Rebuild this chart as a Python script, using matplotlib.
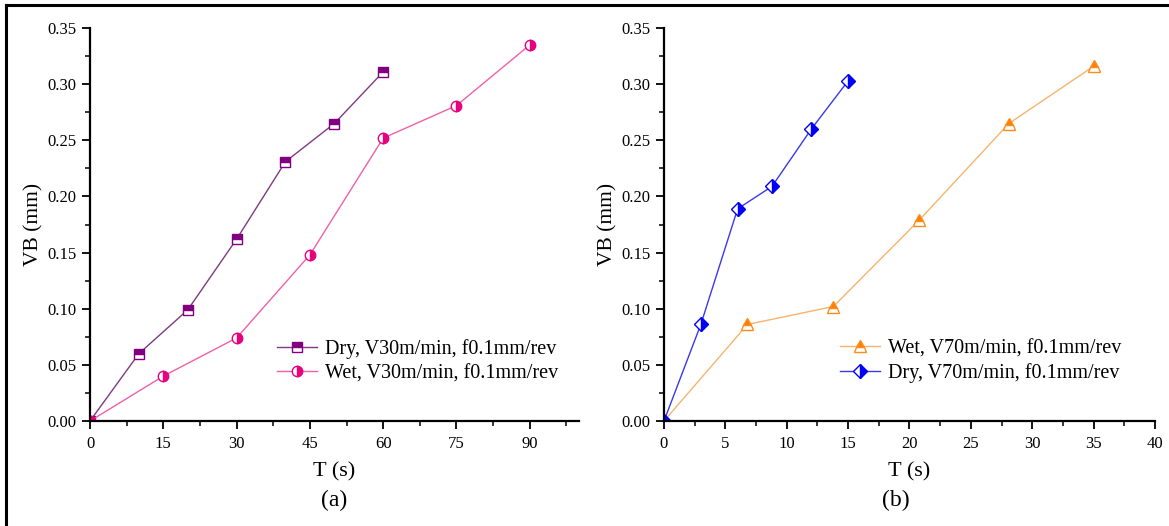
import matplotlib
matplotlib.use("Agg")
import matplotlib.pyplot as plt
from matplotlib.lines import Line2D
from matplotlib.ticker import MultipleLocator, FormatStrFormatter

plt.rcParams["font.family"] = ["Liberation Serif", "DejaVu Serif"]

# (a) V = 30 m/min
t_dry_a = [0, 10, 20, 30, 40, 50, 60]
vb_dry_a = [0.0, 0.060, 0.099, 0.162, 0.231, 0.265, 0.311]
t_wet_a = [0, 15, 30, 45, 60, 75, 90]
vb_wet_a = [0.0, 0.040, 0.074, 0.148, 0.252, 0.281, 0.335]

# (b) V = 70 m/min
t_wet_b = [0, 6.8, 13.8, 20.8, 28.1, 35.0]
vb_wet_b = [0.0, 0.086, 0.102, 0.179, 0.265, 0.316]
t_dry_b = [0, 3.0, 6.0, 8.8, 12.0, 15.0]
vb_dry_b = [0.0, 0.086, 0.189, 0.209, 0.260, 0.303]

fig = plt.figure(figsize=(11.69, 5.26), dpi=100)

# open frame along the top and left edges
fig.add_artist(Line2D([0.005, 1.0], [0.990, 0.990], color="black", lw=2.2,
                      transform=fig.transFigure))
fig.add_artist(Line2D([0.0055, 0.0055], [0.0, 0.990], color="black", lw=2.2,
                      transform=fig.transFigure))

ax_a = fig.add_axes([0.077, 0.1996, 0.418, 0.747])
ax_b = fig.add_axes([0.568, 0.1996, 0.420, 0.747])


def style_axes(ax, xmax, xmajor):
    ax.set_xlim(0, xmax)
    ax.set_ylim(0, 0.35)
    for side in ("top", "right"):
        ax.spines[side].set_visible(False)
    for side in ("left", "bottom"):
        ax.spines[side].set_linewidth(1.6)
    ax.xaxis.set_major_locator(MultipleLocator(xmajor))
    ax.xaxis.set_minor_locator(MultipleLocator(xmajor / 2))
    ax.yaxis.set_major_locator(MultipleLocator(0.05))
    ax.yaxis.set_minor_locator(MultipleLocator(0.025))
    ax.yaxis.set_major_formatter(FormatStrFormatter("%.2f"))
    ax.tick_params(which="major", direction="out", length=6, width=1.3,
                   labelsize=12, colors="black")
    ax.tick_params(which="minor", direction="out", length=3.5, width=1.1)
    ax.tick_params(axis="x", pad=5)
    ax.set_xlabel("T (s)", fontsize=16, labelpad=7)
    ax.set_ylabel("VB (mm)", fontsize=15.5, labelpad=3)


ax_a.plot(t_dry_a, vb_dry_a, color="#7E3A82", lw=1.0, marker="s", ms=7,
          fillstyle="top", markerfacecolor="#80007F", markerfacecoloralt="white",
          markeredgecolor="#80007F", markeredgewidth=1.0,
          label="Dry, V30m/min, f0.1mm/rev")
ax_a.plot(t_wet_a, vb_wet_a, color="#F060A8", lw=1.0, marker="o", ms=7.5,
          fillstyle="right", markerfacecolor="#E8007F", markerfacecoloralt="white",
          markeredgecolor="#E8007F", markeredgewidth=1.0,
          label="Wet, V30m/min, f0.1mm/rev")
style_axes(ax_a, 100, 15)
ax_a.legend(loc="lower left", bbox_to_anchor=(0.354, 0.06), frameon=False,
            fontsize=14.5, handlelength=2.0, handletextpad=0.4,
            labelspacing=0.25, borderpad=0.2)

ax_b.plot(t_wet_b, vb_wet_b, color="#F7B46E", lw=1.0, marker="^", ms=8.5,
          fillstyle="top", markerfacecolor="#FF7F00", markerfacecoloralt="white",
          markeredgecolor="#FF8C1A", markeredgewidth=1.0,
          label="Wet, V70m/min, f0.1mm/rev")
ax_b.plot(t_dry_b, vb_dry_b, color="#3838F0", lw=1.0, marker="D", ms=7,
          fillstyle="right", markerfacecolor="#0000F5", markerfacecoloralt="white",
          markeredgecolor="#0000F5", markeredgewidth=1.0,
          label="Dry, V70m/min, f0.1mm/rev")
style_axes(ax_b, 40, 5)
ax_b.legend(loc="lower left", bbox_to_anchor=(0.33, 0.06), frameon=False,
            fontsize=14.5, handlelength=2.0, handletextpad=0.4,
            labelspacing=0.25, borderpad=0.2)

fig.text(0.2856, 0.048, "(a)", ha="center", va="center", fontsize=17)
fig.text(0.7665, 0.048, "(b)", ha="center", va="center", fontsize=17)

fig.savefig("out.png", dpi=100, facecolor="white")
